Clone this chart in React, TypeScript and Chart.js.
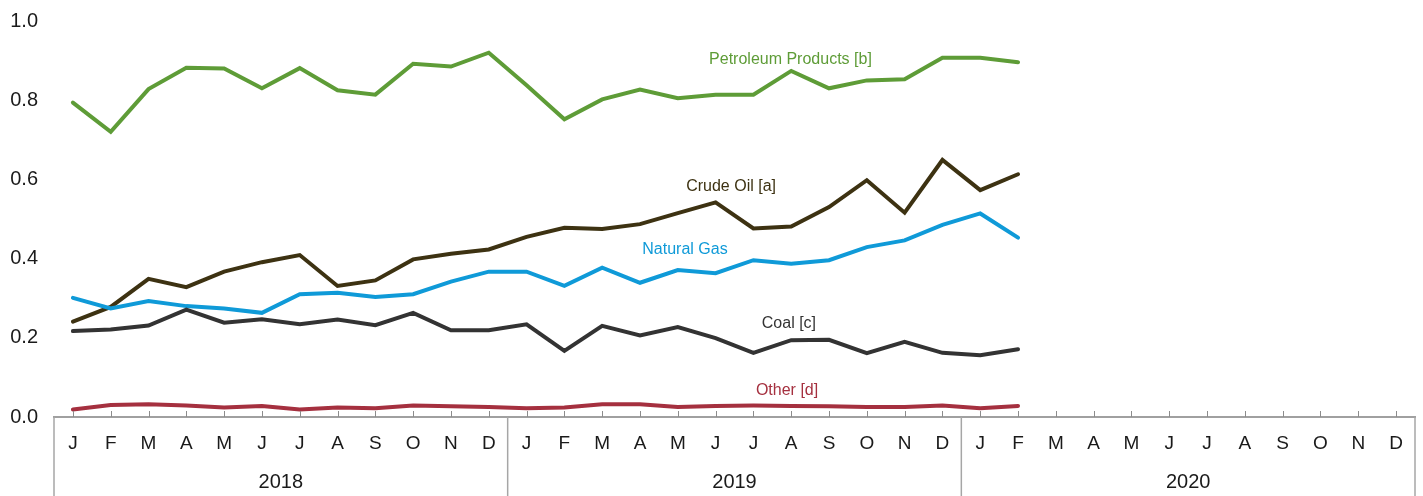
import React, { useEffect, useRef } from "react";
import { Chart, registerables } from "chart.js";

Chart.register(...registerables);

const monthLabels = [
  "J","F","M","A","M","J","J","A","S","O","N","D",
  "J","F","M","A","M","J","J","A","S","O","N","D",
  "J","F","M","A","M","J","J","A","S","O","N","D",
];
const yearLabels = ["2018", "2019", "2020"];
const yTicks = [0, 0.2, 0.4, 0.6, 0.8, 1.0];

const petroleumProducts = [
  0.794, 0.72, 0.828, 0.882, 0.88, 0.83, 0.881, 0.825, 0.814, 0.892, 0.885, 0.92,
  0.838, 0.752, 0.802, 0.827, 0.805, 0.814, 0.814, 0.874, 0.83, 0.85, 0.853, 0.907,
  0.907, 0.896,
];
const crudeOil = [
  0.241, 0.278, 0.349, 0.328, 0.367, 0.391, 0.409, 0.331, 0.345, 0.398, 0.412, 0.423,
  0.455, 0.478, 0.475, 0.487, 0.515, 0.542, 0.476, 0.481, 0.53, 0.598, 0.516, 0.649,
  0.573, 0.613,
];
const naturalGas = [
  0.301, 0.274, 0.293, 0.28, 0.274, 0.263, 0.31, 0.314, 0.303, 0.31, 0.342, 0.367,
  0.367, 0.331, 0.377, 0.339, 0.371, 0.363, 0.396, 0.387, 0.396, 0.429, 0.446, 0.485,
  0.514, 0.453,
];
const coal = [
  0.217, 0.221, 0.231, 0.271, 0.238, 0.247, 0.234, 0.246, 0.232, 0.263, 0.219, 0.219,
  0.234, 0.167, 0.23, 0.206, 0.227, 0.199, 0.162, 0.194, 0.195, 0.161, 0.19, 0.162,
  0.156, 0.171,
];
const other = [
  0.019, 0.03, 0.032, 0.029, 0.024, 0.028, 0.019, 0.024, 0.022, 0.029, 0.027, 0.025,
  0.022, 0.024, 0.032, 0.032, 0.025, 0.028, 0.029, 0.028, 0.027, 0.025, 0.025, 0.029,
  0.022, 0.028,
];

const seriesNames = ["Petroleum Products [b]", "Crude Oil [a]", "Natural Gas", "Coal [c]", "Other [d]"];
const seriesColors = ["#5e9c37", "#3d3212", "#0f9ad8", "#333333", "#a5303f"];
// label anchor in data coordinates (category index, value)
const labelAnchorX = [18.98, 17.41, 16.19, 18.94, 18.89];
const labelAnchorY = [0.903, 0.583, 0.424, 0.236, 0.067];

const FONT = "'Liberation Sans', Arial, sans-serif";
const AXIS_GREY = "#a0a0a0";

const decorPlugin = {
  id: "decor",
  afterDraw(chart: any) {
    const { ctx, chartArea, scales } = chart;
    const x = scales.x;
    const y = scales.y;
    const n = monthLabels.length;
    const w = (chartArea.right - chartArea.left) / n;
    ctx.save();
    // tick marks pointing up
    ctx.strokeStyle = "#8c8c8c";
    ctx.lineWidth = 1;
    for (let i = 0; i < n; i++) {
      const px = Math.round(x.getPixelForValue(i)) + 0.5;
      ctx.beginPath();
      ctx.moveTo(px, chartArea.bottom - 6);
      ctx.lineTo(px, chartArea.bottom);
      ctx.stroke();
    }
    // year separators
    ctx.strokeStyle = "#a6a6a6";
    ctx.lineWidth = 1.5;
    for (let k = 0; k <= yearLabels.length; k++) {
      const px = chartArea.left + k * 12 * w;
      ctx.beginPath();
      ctx.moveTo(px, chartArea.bottom);
      ctx.lineTo(px, chart.height);
      ctx.stroke();
    }
    // year labels
    ctx.fillStyle = "#1a1a1a";
    ctx.font = `20px ${FONT}`;
    ctx.textAlign = "center";
    ctx.textBaseline = "middle";
    yearLabels.forEach((lab, k) => {
      const px = chartArea.left + (k * 12 + 6) * w;
      ctx.fillText(lab, px, chartArea.bottom + 65);
    });
    // series labels
    ctx.font = `16px ${FONT}`;
    seriesNames.forEach((name, i) => {
      ctx.fillStyle = seriesColors[i];
      ctx.fillText(name, x.getPixelForValue(labelAnchorX[i]), y.getPixelForValue(labelAnchorY[i]));
    });
    ctx.restore();
  },
};

export default function App() {
  const ref = useRef<HTMLCanvasElement>(null);
  useEffect(() => {
    if (!ref.current) return;
    const values = [petroleumProducts, crudeOil, naturalGas, coal, other];
    const order = [4, 3, 2, 1, 0];
    const chart = new Chart(ref.current, {
      type: "line",
      data: {
        labels: monthLabels,
        datasets: order.map((i) => ({
          label: seriesNames[i],
          data: values[i],
          borderColor: seriesColors[i],
          backgroundColor: seriesColors[i],
          borderWidth: 4,
          pointRadius: 0,
          tension: 0,
          fill: false,
          borderCapStyle: "round" as const,
        })),
      },
      options: {
        animation: false,
        responsive: false,
        maintainAspectRatio: false,
        layout: { padding: { top: 21, right: 8, left: 0, bottom: 0 } },
        plugins: { legend: { display: false }, tooltip: { enabled: false } },
        scales: {
          x: {
            type: "category",
            offset: true,
            grid: { display: false, drawTicks: false },
            border: { display: true, color: AXIS_GREY, width: 2 },
            ticks: {
              autoSkip: false,
              maxRotation: 0,
              color: "#1a1a1a",
              font: { family: FONT, size: 19 },
              padding: 15,
            },
            afterFit: (s: any) => {
              s.height = 79;
              s.paddingLeft = 0;
              s.paddingRight = 0;
            },
          },
          y: {
            min: 0,
            max: 1,
            grid: { display: false, drawTicks: false },
            border: { display: false },
            afterBuildTicks: (s: any) => {
              s.ticks = yTicks.map((v) => ({ value: v }));
            },
            ticks: {
              color: "#1a1a1a",
              font: { family: FONT, size: 20 },
              padding: 16,
              callback: (v: any) => Number(v).toFixed(1),
            },
            afterFit: (s: any) => {
              s.width = 54;
              s.paddingTop = 0;
              s.paddingBottom = 0;
            },
          },
        },
      },
      plugins: [decorPlugin],
    });
    return () => chart.destroy();
  }, []);
  return (
    <div style={{ position: "fixed", left: 0, top: 0, width: 1423, height: 496, background: "#fff" }}>
      <canvas ref={ref} width={1423} height={496} style={{ width: 1423, height: 496 }} />
    </div>
  );
}
